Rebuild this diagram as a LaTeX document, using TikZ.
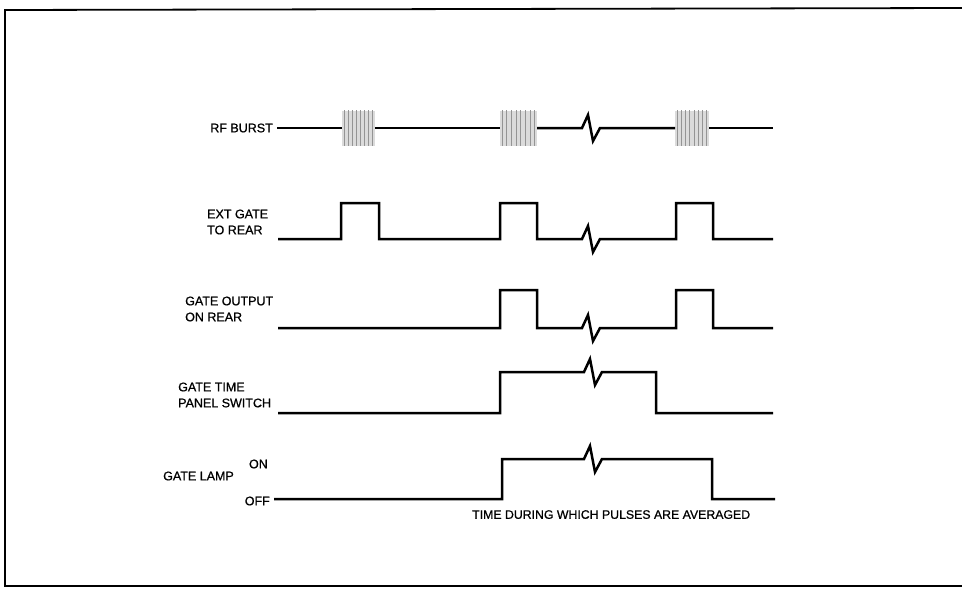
\documentclass[tikz,border=0pt]{standalone}
\usepackage{fontspec}
\setmainfont{Liberation Sans}
\setsansfont[FakeBold=0.8]{Liberation Sans}
\usetikzlibrary{positioning}
\tikzset{
  font=\sffamily,
  sig/.style   ={line width=2.5pt, line join=miter},
  frame/.style ={line width=1.8pt},
  lbl/.style   ={align=left, inner sep=0pt, font=\sffamily\fontsize{12.5}{16}\selectfont},
  note/.style  ={inner sep=0pt, font=\sffamily\fontsize{12.3}{14}\selectfont},
  burstfill/.style={fill=black!14},
  burstline/.style={draw=black!42, line width=0.9pt},
}
% zig-zag break drawn on a trace at (x,y)
\newcommand{\zigbreak}[2]{-- ({#1-6},#2) -- ({#1},{#2-13}) -- ({#1+5},{#2+13}) -- ({#1+12},#2)}

\begin{document}
\begin{tikzpicture}[x=1pt, y=-1pt]
  \useasboundingbox (0,0) rectangle (962,589);
  % outer frame, open on the right
  \draw[frame] (962,8) -- (5,10) -- (5,586) -- (962,586);

  % signal names
  \node[lbl, anchor=east] (rf) at (273,128) {RF BURST};
  \node[lbl, anchor=west] (ext) at (207,222) {EXT GATE\\TO REAR};
  \node[lbl, anchor=west] (gout) at (185,309) {GATE OUTPUT\\ON REAR};
  \node[lbl, anchor=west] (gtime) at (178,395) {GATE TIME\\PANEL SWITCH};
  \node[lbl, anchor=east] (lamp) at (234,476) {GATE LAMP};
  \node[lbl, anchor=east] (on) at (268,464) {ON};
  \node[lbl, anchor=east] (off) at (270,501) {OFF};

  % RF burst trace
  \foreach \xa/\xb in {342/375, 500/537, 675/709}{
    \fill[burstfill] (\xa,111) rectangle (\xb,146);
    \foreach \k in {1,...,8}
      \draw[burstline] ({\xa+(\xb-\xa)*(\k-0.5)/8},110) -- ++(0,36);
  }
  \draw[sig] (277,128) -- (342,128);
  \draw[sig] (375,128) -- (500,128);
  \draw[sig] (537,128) \zigbreak{588}{128} -- (675,128);
  \draw[sig] (709,128) -- (773,128);

  % ext gate to rear
  \draw[sig] (278,239) -- (341,239) -- (341,203) -- (379,203) -- (379,239)
    -- (500,239) -- (500,203) -- (537,203) -- (537,239)
    \zigbreak{588}{239} -- (676,239) -- (676,203) -- (713,203)
    -- (713,239) -- (773,239);

  % gate output on rear
  \draw[sig] (278,328) -- (500,328) -- (500,290) -- (537,290) -- (537,328)
    \zigbreak{588}{328} -- (676,328) -- (676,290) -- (713,290)
    -- (713,328) -- (773,328);

  % gate time panel switch
  \draw[sig] (278,413) -- (500,413) -- (500,372)
    \zigbreak{590}{372} -- (656,372) -- (656,413) -- (773,413);

  % gate lamp
  \draw[sig] (274,499) -- (502,499) -- (502,459)
    \zigbreak{590}{459} -- (712,459) -- (712,499) -- (775,499);

  \node[note, anchor=north west] (avg) at (472,510) {TIME DURING WHICH PULSES ARE AVERAGED};
\end{tikzpicture}
\end{document}
